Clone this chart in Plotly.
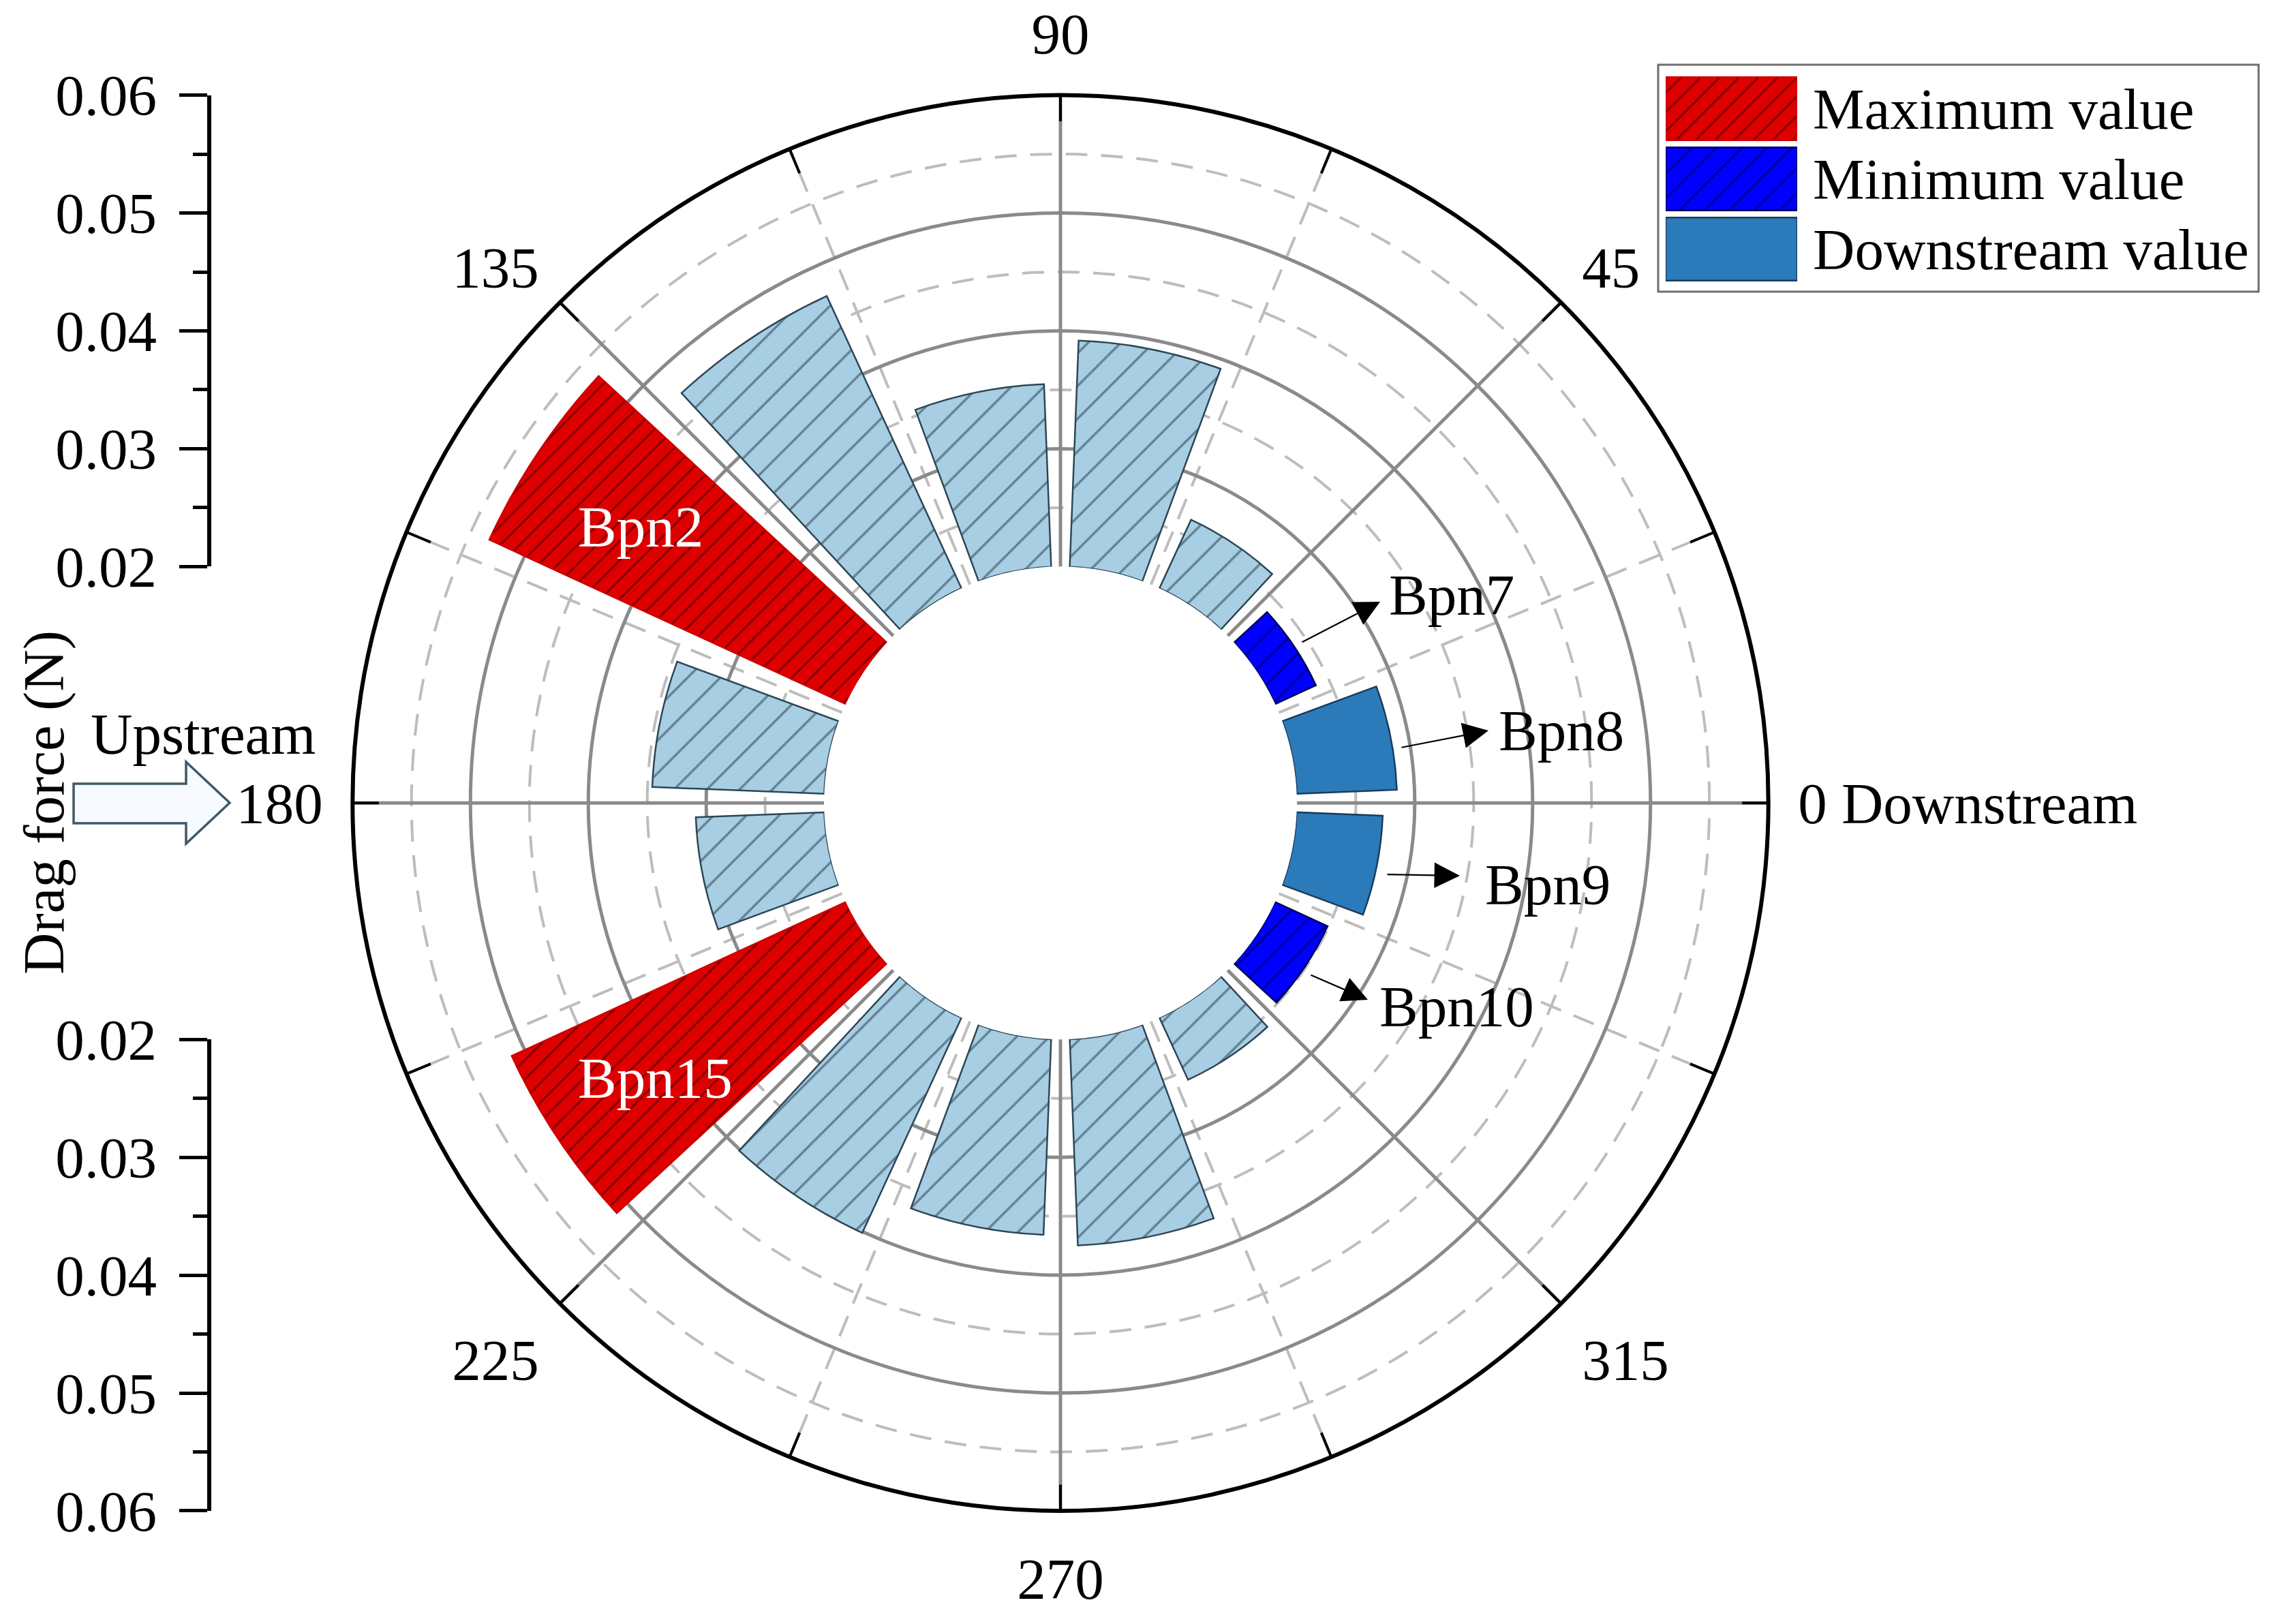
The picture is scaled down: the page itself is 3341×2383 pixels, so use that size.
import plotly.graph_objects as go

# ---------------- data ----------------
bar_names = ["Bpn1", "Bpn2", "Bpn3", "Bpn4", "Bpn5", "Bpn6", "Bpn7", "Bpn8",
             "Bpn9", "Bpn10", "Bpn11", "Bpn12", "Bpn13", "Bpn14", "Bpn15", "Bpn16"]
bar_theta = [168.75, 146.25, 123.75, 101.25, 78.75, 56.25, 33.75, 11.25,
             348.75, 326.25, 303.75, 281.25, 258.75, 236.25, 213.75, 191.25]
drag_force = [0.0346, 0.0533, 0.0473, 0.0355, 0.0392, 0.0264, 0.0238, 0.0285,
              0.0273, 0.0249, 0.0258, 0.0375, 0.0366, 0.0401, 0.0512, 0.0309]
bar_group = ["other", "max", "other", "other", "other", "other", "min", "down",
             "down", "min", "other", "other", "other", "other", "max", "other"]
legend_labels = ["Maximum value", "Minimum value", "Downstream value"]
legend_groups = ["max", "min", "down"]
angle_ticks = [0, 45, 90, 135, 180, 225, 270, 315]
angle_text = ["0 Downstream", "45", "90", "135", "180", "225", "270", "315"]
angle_minor = [22.5, 67.5, 112.5, 157.5, 202.5, 247.5, 292.5, 337.5]
angle_all = [0, 22.5, 45, 67.5, 90, 112.5, 135, 157.5, 180, 202.5, 225, 247.5,
             270, 292.5, 315, 337.5]
r_major = [0.02, 0.03, 0.04, 0.05]
r_minor = [0.025, 0.035, 0.045, 0.055]
R_RANGE = [0.02, 0.06]

# ---------------- geometry / style ----------------
W, H = 3341, 2383
CX, CY, RAD, HOLE = 1556.0, 1178.3, 1038.7, 0.334
FONT = "Liberation Serif"
FS = 85


def fx(x):
    return x / W


def fy(y):
    return 1 - y / H


styles = {
    "other": dict(color="#a7cee3", line="#2d4656", pat="/", psize=34, sol=0.1, pfg="#1d3442"),
    "max": dict(color="#de0000", line="#cc0000", pat="/", psize=20, sol=0.14, pfg="#200000"),
    "min": dict(color="#0000ff", line="#00005a", pat="/", psize=26, sol=0.12, pfg="#000030"),
    "down": dict(color="#2b7bba", line="#1b3c5c", pat="", psize=10, sol=0.1, pfg="#000000"),
}

fig = go.Figure()

# empty traces so that the grid-only polar subplots are drawn
fig.add_trace(go.Scatterpolar(r=[], theta=[], subplot="polar", showlegend=False))
fig.add_trace(go.Scatterpolar(r=[], theta=[], subplot="polar2", showlegend=False))

for g in ["other", "max", "min", "down"]:
    idx = [i for i, gg in enumerate(bar_group) if gg == g]
    st = styles[g]
    fig.add_trace(go.Barpolar(
        r=[drag_force[i] - R_RANGE[0] for i in idx],
        base=[R_RANGE[0]] * len(idx),
        theta=[bar_theta[i] for i in idx],
        text=[bar_names[i] for i in idx],
        width=18,
        subplot="polar3",
        showlegend=False,
        marker=dict(color=st["color"],
                    line=dict(color=st["line"], width=2.5),
                    pattern=dict(shape=st["pat"], size=st["psize"], solidity=st["sol"],
                                 fgcolor=st["pfg"])),
    ))

# left radial scale axes (upper and lower)
fig.add_trace(go.Scatter(x=[], y=[], xaxis="x2", yaxis="y2", showlegend=False))
fig.add_trace(go.Scatter(x=[], y=[], xaxis="x3", yaxis="y3", showlegend=False))

# legend swatches (one bar per legend entry)
for lab, g in zip(legend_labels, legend_groups):
    st = styles[g]
    fig.add_trace(go.Bar(
        x=[1], y=[lab], orientation="h", xaxis="x4", yaxis="y4", width=0.9,
        showlegend=False,
        marker=dict(color=st["color"], line=dict(color=st["line"], width=2.5),
                    pattern=dict(shape=st["pat"], size=st["psize"], solidity=st["sol"],
                                 fgcolor=st["pfg"])),
    ))

pdom = dict(x=[fx(CX - RAD), fx(CX + RAD)], y=[fy(CY + RAD), fy(CY - RAD)])

hidden_radial = dict(range=R_RANGE, showticklabels=False, ticks="", showline=False)

left_axis_common = dict(
    dtick=0.01, tick0=0.02, tickformat=".2f",
    showline=True, linecolor="black", linewidth=6,
    ticks="outside", ticklen=41, tickwidth=5, tickcolor="black",
    ticklabelstandoff=16, showgrid=False, zeroline=False,
    minor=dict(dtick=0.005, ticks="outside", ticklen=21, tickwidth=5,
               tickcolor="black", showgrid=False),
    tickfont=dict(family=FONT, size=FS),
)

fig.update_layout(
    width=W, height=H,
    margin=dict(l=0, r=0, t=0, b=0, autoexpand=False),
    paper_bgcolor="white", plot_bgcolor="white",
    font=dict(family=FONT, size=FS, color="black"),
    showlegend=False,
    barmode="overlay",
    polar=dict(
        domain=pdom, hole=HOLE, bgcolor="white",
        radialaxis=dict(**hidden_radial, tickvals=r_minor, showgrid=True,
                        gridcolor="#bdbdbd", gridwidth=4, griddash="32px,20px"),
        angularaxis=dict(tickvals=angle_minor, showticklabels=False, ticks="",
                         showline=False, showgrid=True, gridcolor="#bdbdbd",
                         gridwidth=4, griddash="32px,20px"),
    ),
    polar2=dict(
        domain=pdom, hole=HOLE, bgcolor="rgba(0,0,0,0)",
        radialaxis=dict(**hidden_radial, tickvals=r_major, showgrid=True,
                        gridcolor="#8a8a8a", gridwidth=4.5),
        angularaxis=dict(tickvals=angle_ticks, ticktext=angle_text,
                         showticklabels=True, ticks="outside", ticklen=26,
                         tickcolor="rgba(0,0,0,0)",
                         tickfont=dict(family=FONT, size=FS, color="black"),
                         showline=False, showgrid=True, gridcolor="#8a8a8a",
                         gridwidth=4.5),
    ),
    polar3=dict(
        domain=pdom, hole=HOLE, bgcolor="rgba(0,0,0,0)",
        radialaxis=dict(**hidden_radial, showgrid=False),
        angularaxis=dict(tickvals=angle_all, showticklabels=False, ticks="inside",
                         ticklen=38, tickwidth=4, tickcolor="black",
                         showline=False, showgrid=False),
    ),
    xaxis2=dict(domain=[fx(310), fx(400)], visible=False, range=[0, 1]),
    yaxis2=dict(domain=[fy(CY - HOLE * RAD), fy(CY - RAD)], anchor="x2",
                range=R_RANGE, **left_axis_common),
    xaxis3=dict(domain=[fx(310), fx(400)], visible=False, range=[0, 1]),
    yaxis3=dict(domain=[fy(CY + RAD), fy(CY + HOLE * RAD)], anchor="x3",
                range=R_RANGE[::-1], **left_axis_common),
    xaxis4=dict(domain=[fx(2444), fx(2637)], visible=False, range=[0, 1]),
    yaxis4=dict(domain=[fy(417), fy(108)], anchor="x4", side="right",
                autorange="reversed", showgrid=False, showline=False, ticks="",
                tickmode="array", tickvals=legend_labels, ticktext=legend_labels,
                ticklabelstandoff=22, zeroline=False,
                tickfont=dict(family=FONT, size=FS)),
)

# outer black circle, legend frame and upstream arrow
shapes = [
    dict(type="circle", xref="paper", yref="paper",
         x0=fx(CX - RAD), x1=fx(CX + RAD), y0=fy(CY + RAD), y1=fy(CY - RAD),
         line=dict(color="black", width=6), fillcolor="rgba(0,0,0,0)", layer="above"),
    dict(type="rect", xref="paper", yref="paper", x0=fx(2433), x1=fx(3314),
         y0=fy(428), y1=fy(95), line=dict(color="#6e6e6e", width=3),
         fillcolor="rgba(0,0,0,0)", layer="below"),
]
arrow_pts = [(108, 1150), (273, 1150), (273, 1118), (337, 1178), (273, 1238),
             (273, 1208), (108, 1208)]
path = "M " + " L ".join(f"{fx(x):.5f},{fy(y):.5f}" for x, y in arrow_pts) + " Z"
shapes.append(dict(type="path", xref="paper", yref="paper", path=path,
                   line=dict(color="#3f5868", width=3.5), fillcolor="#f7fbff"))
fig.update_layout(shapes=shapes)

annotations = []
# labels inside the maximum bars
for name, (x, y) in {"Bpn2": (940, 773), "Bpn15": (962, 1582)}.items():
    annotations.append(dict(x=fx(x), y=fy(y), xref="paper", yref="paper", text=name,
                            xanchor="center", yanchor="middle", showarrow=False,
                            font=dict(color="white", size=FS, family=FONT)))
# labels with arrows on the downstream side
side_labels = {
    "Bpn7": ((2036, 873), (2025, 883), (1909, 943)),
    "Bpn8": ((2197, 1072), (2184, 1072), (2055, 1097)),
    "Bpn9": ((2177, 1298), (2142, 1285), (2034, 1283)),
    "Bpn10": ((2022, 1477), (2007, 1467), (1922, 1430)),
}
for name, ((tx, ty), (hx, hy), (sx, sy)) in side_labels.items():
    annotations.append(dict(x=fx(tx), y=fy(ty), xref="paper", yref="paper", text=name,
                            xanchor="left", yanchor="middle", showarrow=False,
                            font=dict(color="black", size=FS, family=FONT)))
    annotations.append(dict(x=fx(hx), y=fy(hy), xref="paper", yref="paper", text="",
                            showarrow=True, ax=sx - hx, ay=sy - hy, axref="pixel",
                            ayref="pixel", arrowhead=2, arrowsize=3.4, arrowwidth=2.2,
                            arrowcolor="black", standoff=0, startstandoff=0))
annotations.append(dict(x=fx(298), y=fy(1077), xref="paper", yref="paper",
                        text="Upstream", showarrow=False, xanchor="center",
                        yanchor="middle",
                        font=dict(color="black", size=FS, family=FONT)))
annotations.append(dict(x=fx(64), y=fy(1178), xref="paper", yref="paper",
                        text="Drag force (N)", textangle=-90, showarrow=False,
                        xanchor="center", yanchor="middle",
                        font=dict(color="black", size=FS, family=FONT)))
fig.update_layout(annotations=annotations)

fig.write_html("out.html",
               config={"displayModeBar": False},
               post_script="document.body.style.margin='0px';"
                           "document.body.style.padding='0px';")
